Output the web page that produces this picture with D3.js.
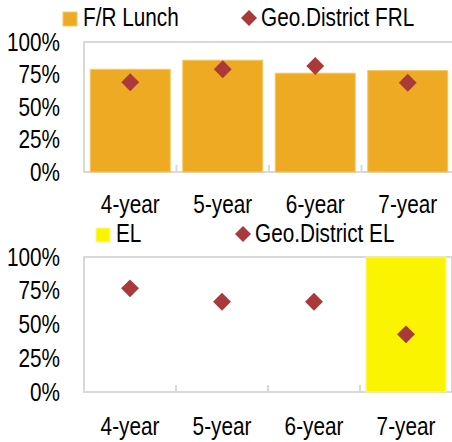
<!DOCTYPE html>
<html>
<head>
<meta charset="utf-8">
<script src="https://cdn.jsdelivr.net/npm/d3@7"></script>
<style>
  html, body { margin: 0; padding: 0; background: #fff; overflow: hidden; }
  svg text { font-family: 'Liberation Sans', Arial, sans-serif; font-size: 25px; fill: #000; }
</style>
</head>
<body>
<svg id="chart" width="452" height="442"></svg>
<script>
// categories and values
const years = ['4-year', '5-year', '6-year', '7-year'];
const frlLunch = [0.79, 0.86, 0.76, 0.78];
const geoFrl = [0.69, 0.79, 0.815, 0.687];
const elShare = [0, 0, 0, 1.0];
const geoEl = [0.768, 0.669, 0.669, 0.427];
const yTicks = [0, 0.25, 0.5, 0.75, 1];

const svg = d3.select('#chart');
const fmt = d3.format('.0%');
const narrow = 'scale(0.83,1)'; // the original type is a narrow face

function panel(opts) {
  const x = d3.scaleBand()
    .domain(years)
    .range([opts.left, opts.right])
    .paddingInner(opts.gap)
    .paddingOuter(opts.gap / 2);
  const y = d3.scaleLinear().domain([0, 1]).range([opts.bottom, opts.top]);

  const g = svg.append('g');

  // plot frame
  g.append('rect')
    .attr('x', opts.left)
    .attr('y', opts.top)
    .attr('width', opts.right - opts.left)
    .attr('height', opts.bottom - opts.top)
    .attr('fill', 'none')
    .attr('stroke', '#d9d9d9')
    .attr('stroke-width', 2);

  // bars
  g.selectAll('rect.bar')
    .data(opts.bars.map((v, i) => ({cat: years[i], v: v})).filter(d => d.v > 0))
    .enter()
    .append('rect')
    .attr('class', 'bar')
    .attr('x', d => x(d.cat))
    .attr('y', d => y(d.v))
    .attr('width', x.bandwidth())
    .attr('height', d => y(0) - y(d.v))
    .attr('fill', opts.barColor)
    .attr('stroke', opts.barEdge)
    .attr('stroke-width', 1);

  // category separator ticks on the bottom axis
  const half = (x.step() - x.bandwidth()) / 2;
  g.selectAll('line.tick')
    .data(years.slice(1))
    .enter()
    .append('line')
    .attr('x1', d => x(d) - half)
    .attr('x2', d => x(d) - half)
    .attr('y1', opts.bottom)
    .attr('y2', opts.bottom - 7)
    .attr('stroke', '#d9d9d9')
    .attr('stroke-width', 2);

  // diamonds
  g.selectAll('path.pt')
    .data(opts.points.map((v, i) => ({cat: years[i], v: v})))
    .enter()
    .append('path')
    .attr('d', d3.symbol(d3.symbolSquare, 160))
    .attr('transform', d => 'translate(' + (x(d.cat) + x.bandwidth() / 2) + ',' + y(d.v) + ') rotate(45)')
    .attr('fill', '#a83a3a');

  // y labels
  const yAxis = d3.axisLeft(y).tickValues(yTicks).tickFormat(fmt).tickSize(0).tickPadding(0);
  const ya = g.append('g')
    .attr('transform', 'translate(' + (opts.left - 24) + ',0)')
    .call(yAxis);
  ya.select('.domain').remove();
  ya.selectAll('text')
    .attr('x', 0)
    .attr('font-size', null).attr('font-family', null).attr('fill', '#000')
    .attr('transform', narrow);

  // x labels
  const xAxis = d3.axisBottom(x).tickSize(0).tickPadding(0);
  const xa = g.append('g')
    .attr('transform', 'translate(0,' + opts.labelY + ')')
    .call(xAxis);
  xa.select('.domain').remove();
  xa.selectAll('text')
    .attr('y', 0).attr('dy', 0)
    .attr('font-size', null).attr('font-family', null).attr('fill', '#000')
    .attr('transform', narrow);

  // legend
  const lg = g.append('g');
  lg.append('rect')
    .attr('x', opts.legend.sqX)
    .attr('y', opts.legend.y - 14)
    .attr('width', 14)
    .attr('height', 14)
    .attr('fill', opts.barColor)
    .attr('stroke', opts.barEdge);
  lg.append('text')
    .attr('transform', 'translate(' + (opts.legend.sqX + 20) + ',' + opts.legend.y + ') ' + narrow)
    .text(opts.legend.barName);
  lg.append('path')
    .attr('d', d3.symbol(d3.symbolSquare, 128))
    .attr('transform', 'translate(' + (opts.legend.dmX + 8) + ',' + (opts.legend.y - 8) + ') rotate(45)')
    .attr('fill', '#a83a3a');
  lg.append('text')
    .attr('transform', 'translate(' + (opts.legend.dmX + 20) + ',' + opts.legend.y + ') ' + narrow)
    .text(opts.legend.ptName);
}

panel({
  left: 84, right: 454, top: 42, bottom: 172, gap: 12.5 / 92.5, labelY: 213,
  bars: frlLunch, points: geoFrl,
  barColor: '#eeaa22', barEdge: '#f5c866',
  legend: {y: 26, sqX: 63, dmX: 241, barName: 'F/R Lunch', ptName: 'Geo.District FRL'}
});

panel({
  left: 84, right: 452, top: 257, bottom: 392, gap: 12 / 92, labelY: 435,
  bars: elShare, points: geoEl,
  barColor: '#fbf400', barEdge: '#fdf98c',
  legend: {y: 242, sqX: 96, dmX: 235, barName: 'EL', ptName: 'Geo.District EL'}
});
</script>
</body>
</html>
